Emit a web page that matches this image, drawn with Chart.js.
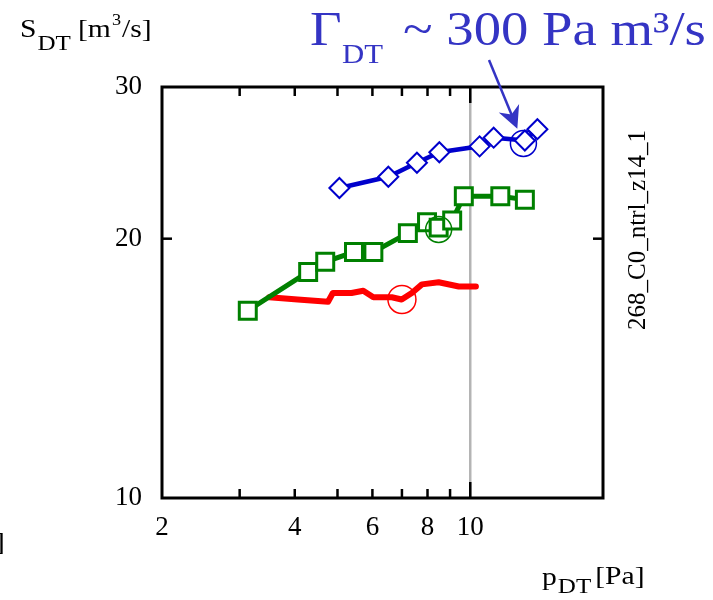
<!DOCTYPE html>
<html lang="en">
<head>
  <meta charset="UTF-8" />
  <title>S_DT vs p_DT</title>
  <script src="https://cdn.jsdelivr.net/npm/chart.js"></script>
  <style>
    body { margin: 0; background: #fff; }
    canvas { display: block; }
  </style>
</head>
<body>
<canvas id="chart" width="713" height="600"></canvas>
<script>
  // axis ticks
  const xTickLabels = [2, 4, 6, 8, 10];
  const xMinorTicks = [3, 4, 5, 6, 7, 8, 9, 10];
  const yTickLabels = [10, 20, 30];
  const yMinorTicks = [20];

  // blue diamonds
  const blueP = [5.05, 6.52, 7.57, 8.51, 10.5, 11.3, 13.3, 14.2];
  const blueS = [22.9, 23.6, 24.5, 25.2, 25.6, 26.2, 26.0, 26.8];

  // green squares
  const greenP = [3.13, 4.29, 4.69, 5.45, 6.03, 7.22, 7.98, 8.48, 9.10, 9.67, 11.7, 13.3];
  const greenS = [16.5, 18.3, 18.8, 19.3, 19.3, 20.3, 20.9, 20.6, 21.0, 22.4, 22.4, 22.2];

  // red trace (no markers)
  const redP = [3.50, 4.06, 4.76, 4.88, 5.38, 5.72, 6.03, 6.64, 6.99, 7.37, 7.77, 8.48, 9.42, 10.3];
  const redS = [17.1, 17.0, 16.9, 17.3, 17.3, 17.4, 17.1, 17.1, 17.0, 17.3, 17.7, 17.8, 17.6, 17.6];

  // open circles (blue, green, red)
  const circleP = [13.2, 8.48, 7.0];
  const circleS = [25.8, 20.5, 17.0];

  const BLUE = '#0000cc';
  const GREEN = '#008000';
  const RED = '#ff0000';
  const LABEL_BLUE = '#3434c4';
  const SERIF = '"Liberation Serif", "Times New Roman", serif';

  const pts = (xs, ys) => xs.map((x, i) => ({ x: x, y: ys[i] }));

  // text with the slight horizontal stretch the original picture has
  function txt(ctx, s, x, y, size, color, sx) {
    sx = sx || 1.14;
    ctx.save();
    ctx.font = size + 'px ' + SERIF;
    ctx.fillStyle = color;
    ctx.textBaseline = 'alphabetic';
    ctx.textAlign = 'left';
    ctx.translate(x, y);
    ctx.scale(sx, 1);
    ctx.fillText(s, 0, 0);
    const w = ctx.measureText(s).width * sx;
    ctx.restore();
    return w;
  }

  function line(ctx, x1, y1, x2, y2) {
    ctx.beginPath();
    ctx.moveTo(x1, y1);
    ctx.lineTo(x2, y2);
    ctx.stroke();
  }

  const framePlugin = {
    id: 'frame',
    beforeDatasetsDraw(chart) {
      const ctx = chart.ctx;
      const { top, bottom } = chart.chartArea;
      const px = chart.scales.x.getPixelForValue(10);
      ctx.save();
      ctx.strokeStyle = '#b4b4b4';
      ctx.lineWidth = 2.5;
      line(ctx, px, top, px, bottom);
      ctx.restore();
    },
    afterDatasetsDraw(chart) {
      const ctx = chart.ctx;
      const xs = chart.scales.x, ys = chart.scales.y;
      const { left, right, top, bottom } = chart.chartArea;
      ctx.save();
      ctx.strokeStyle = '#000';
      ctx.lineWidth = 2.5;
      xMinorTicks.forEach(v => {
        const px = xs.getPixelForValue(v);
        const len = v === 10 ? 16 : 9;
        line(ctx, px, bottom, px, bottom - len);
        line(ctx, px, top, px, top + len);
      });
      yMinorTicks.forEach(v => {
        const py = ys.getPixelForValue(v);
        line(ctx, left, py, left + 10, py);
        line(ctx, right, py, right - 10, py);
      });
      ctx.lineWidth = 3;
      ctx.strokeRect(left, top, right - left, bottom - top);
      ctx.restore();

      // axis titles
      let x = 20;
      x += txt(ctx, 'S', x, 37, 26, '#000') + 1;
      txt(ctx, 'DT', x, 50, 22, '#000');
      x = 78;
      x += txt(ctx, '[m', x, 37, 26, '#000') + 1;
      x += txt(ctx, '3', x, 25, 16, '#000') + 1;
      txt(ctx, '/s]', x, 37, 26, '#000');

      x = 542;
      x += txt(ctx, 'p', x, 585, 26, '#000') + 1;
      x += txt(ctx, 'DT', x, 593, 22, '#000') + 4;
      txt(ctx, '[Pa]', x, 584, 26, '#000');

      txt(ctx, ']', -5, 550, 26, '#000');

      // run id, rotated
      ctx.save();
      ctx.translate(645, 230);
      ctx.rotate(-Math.PI / 2);
      ctx.font = '25px ' + SERIF;
      ctx.fillStyle = '#000';
      ctx.textAlign = 'center';
      ctx.textBaseline = 'alphabetic';
      ctx.fillText('268_C0_ntrl_z14_1', 0, 0);
      ctx.restore();

      // Gamma label
      txt(ctx, 'Γ', 310, 45, 48, LABEL_BLUE);
      txt(ctx, 'DT', 342, 63, 27, LABEL_BLUE);
      txt(ctx, '~ 300 Pa m³/s', 403, 45, 48, LABEL_BLUE);

      // arrow to the blue circle
      const c = chart.getDatasetMeta(0).data[0];
      const sx = 489, sy = 60;
      const dx = c.x - sx, dy = c.y - sy;
      const d = Math.hypot(dx, dy);
      const ux = dx / d, uy = dy / d;
      const tx = c.x - ux * 16, ty = c.y - uy * 16;
      ctx.save();
      ctx.strokeStyle = LABEL_BLUE;
      ctx.fillStyle = LABEL_BLUE;
      ctx.lineWidth = 2.5;
      line(ctx, sx, sy, tx - ux * 12, ty - uy * 12);
      const len = 22, hw = 11;
      const bx = tx - ux * len, by = ty - uy * len;
      ctx.beginPath();
      ctx.moveTo(tx, ty);
      ctx.lineTo(bx - uy * hw, by + ux * hw);
      ctx.lineTo(tx - ux * len * 0.7, ty - uy * len * 0.7);
      ctx.lineTo(bx + uy * hw, by - ux * hw);
      ctx.closePath();
      ctx.fill();
      ctx.restore();
    }
  };

  const tickFont = { family: SERIF, size: 27 };

  new Chart(document.getElementById('chart').getContext('2d'), {
    type: 'scatter',
    data: {
      datasets: [
        {
          data: [{ x: circleP[0], y: circleS[0] }],
          pointStyle: 'circle', pointRadius: 13, pointBorderWidth: 1.5,
          pointBorderColor: BLUE, pointBackgroundColor: 'rgba(0,0,0,0)'
        },
        {
          data: pts(blueP, blueS), showLine: true,
          borderColor: BLUE, borderWidth: 4.5,
          pointStyle: 'rectRot', pointRadius: 10, pointBorderWidth: 2,
          pointBorderColor: BLUE, pointBackgroundColor: '#fff'
        },
        {
          data: [{ x: circleP[1], y: circleS[1] }],
          pointStyle: 'circle', pointRadius: 13, pointBorderWidth: 1.5,
          pointBorderColor: GREEN, pointBackgroundColor: 'rgba(0,0,0,0)'
        },
        {
          data: pts(greenP, greenS), showLine: true,
          borderColor: GREEN, borderWidth: 5,
          pointStyle: 'rect', pointRadius: 12, pointBorderWidth: 3,
          pointBorderColor: GREEN, pointBackgroundColor: '#fff'
        },
        {
          data: [{ x: circleP[2], y: circleS[2] }],
          pointStyle: 'circle', pointRadius: 14, pointBorderWidth: 1.5,
          pointBorderColor: RED, pointBackgroundColor: 'rgba(0,0,0,0)'
        },
        {
          data: pts(redP, redS), showLine: true,
          borderColor: RED, borderWidth: 6, pointRadius: 0,
          borderCapStyle: 'round', borderJoinStyle: 'round'
        }
      ]
    },
    options: {
      responsive: false,
      animation: false,
      events: [],
      layout: { padding: { top: 87, right: 110, left: 0, bottom: 0 } },
      plugins: { legend: { display: false }, tooltip: { enabled: false } },
      scales: {
        x: {
          type: 'logarithmic', min: 2, max: 20,
          afterBuildTicks: s => { s.ticks = xTickLabels.map(v => ({ value: v })); },
          afterFit: s => { s.height = 102; },
          grid: { display: false, drawTicks: false },
          border: { display: false },
          ticks: {
            font: tickFont, color: '#000', padding: 14,
            maxRotation: 0, autoSkip: false,
            callback: v => String(v)
          }
        },
        y: {
          type: 'logarithmic', min: 10, max: 30,
          afterBuildTicks: s => { s.ticks = yTickLabels.map(v => ({ value: v })); },
          afterFit: s => { s.width = 162; },
          grid: { display: false, drawTicks: false },
          border: { display: false },
          ticks: {
            font: tickFont, color: '#000', padding: 20,
            autoSkip: false,
            callback: v => String(v)
          }
        }
      }
    },
    plugins: [framePlugin]
  });
</script>
</body>
</html>
